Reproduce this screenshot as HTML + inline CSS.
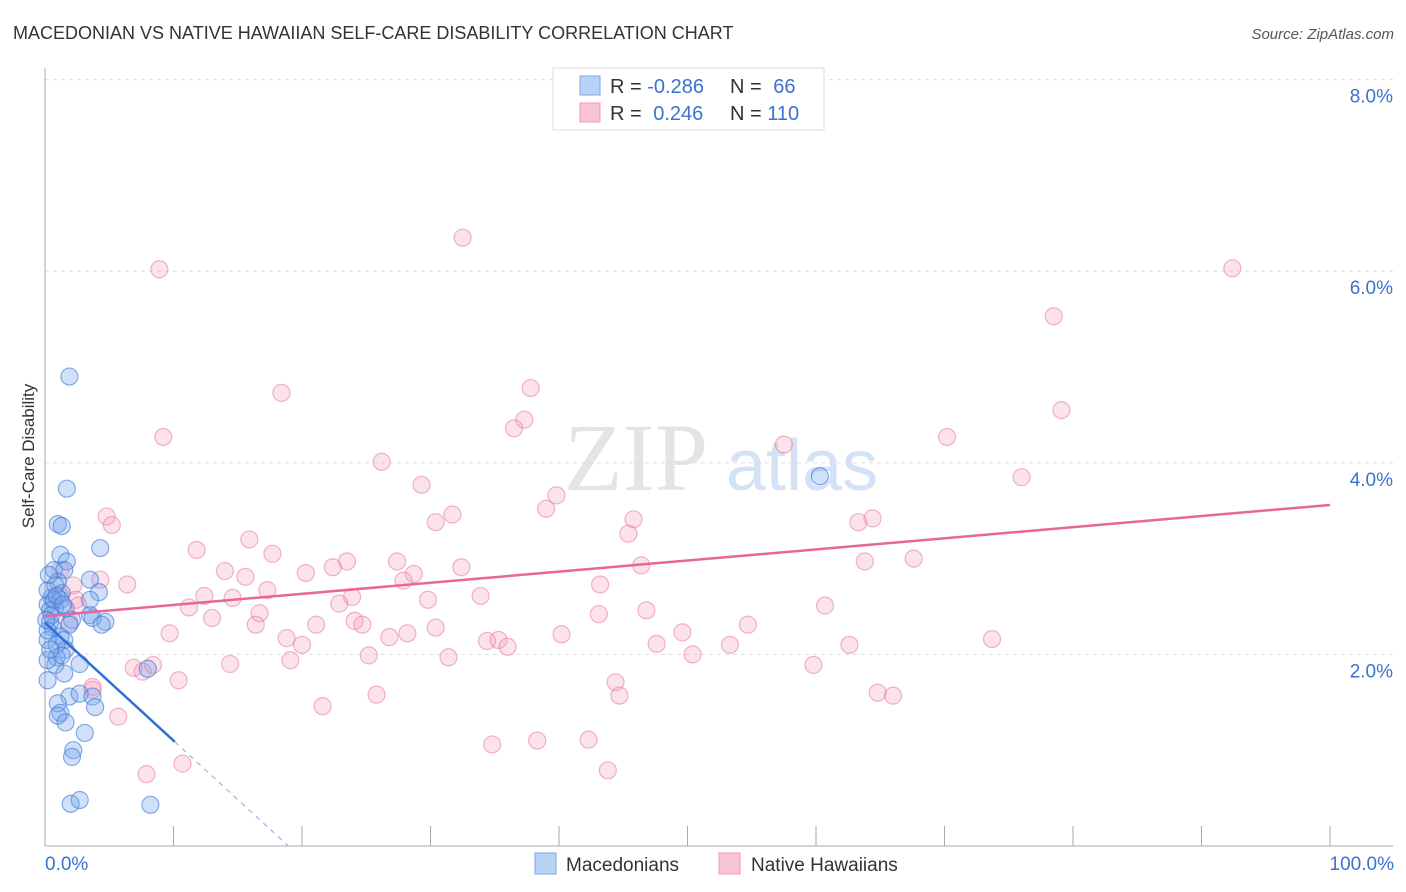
<!DOCTYPE html>
<html><head><meta charset="utf-8">
<style>
body{margin:0;background:#fff;font-family:"Liberation Sans",sans-serif;}
#wrap{position:relative;width:1406px;height:892px;overflow:hidden;}
</style></head>
<body>
<div id="wrap">
<svg id="chart" width="1406" height="892" xmlns="http://www.w3.org/2000/svg">
  <text x="13" y="39" font-size="18" fill="#333">MACEDONIAN VS NATIVE HAWAIIAN SELF-CARE DISABILITY CORRELATION CHART</text>
  <text x="1394" y="39" font-size="15" fill="#555" font-style="italic" text-anchor="end">Source: ZipAtlas.com</text>
  <text transform="translate(34,456) rotate(-90)" font-size="17" fill="#333" text-anchor="middle">Self-Care Disability</text>
  <g>
    <text x="636" y="490" font-size="96" font-family="Liberation Serif,serif" fill="#e4e4e4" text-anchor="middle">ZIP</text>
    <text x="802" y="490" font-size="72" fill="#d3e2f4" text-anchor="middle">atlas</text>
  </g>
  <g id="grid"></g>
  <g id="axes"></g>
  <g id="pts"></g>
  <g id="trends"></g>
  <g>
    <rect x="553" y="68" width="271" height="62" fill="#fff" stroke="#ddd"/>
    <rect x="580" y="76" width="20" height="19" fill="#b8d3f5" stroke="#7aa7e3"/>
    <rect x="580" y="103" width="20" height="19" fill="#f9c5d5" stroke="#ee9ab5"/>
    <text x="610" y="93" font-size="20" fill="#333">R = <tspan fill="#3b72d0">-0.286</tspan></text>
    <text x="730" y="93" font-size="20" fill="#333">N = <tspan fill="#3b72d0" dx="6">66</tspan></text>
    <text x="610" y="120" font-size="20" fill="#333">R = <tspan fill="#3b72d0" dx="6">0.246</tspan></text>
    <text x="730" y="120" font-size="20" fill="#333">N = <tspan fill="#3b72d0">110</tspan></text>
  </g>
  <g>
    <rect x="535" y="853" width="21" height="21" fill="#b8d3f5" stroke="#7aa7e3"/>
    <text x="566" y="871" font-size="19" fill="#333">Macedonians</text>
    <rect x="719" y="853" width="21" height="21" fill="#f9c5d5" stroke="#ee9ab5"/>
    <text x="751" y="871" font-size="19" fill="#333">Native Hawaiians</text>
  </g>
  <text x="45" y="870" font-size="19" fill="#3b72d0">0.0%</text>
  <text x="1394" y="870" font-size="19" fill="#3b72d0" text-anchor="end">100.0%</text>
</svg>
</div>
<script>
const yTicks=[2,4,6,8];
const yTickLabels=["2.0%","4.0%","6.0%","8.0%"];
const xTicks=[10,20,30,40,50,60,70,80,90,100];
const macX=[1.9,1.7,1.0,1.3,4.3,1.2,1.7,0.7,1.5,1.0,3.5,4.2,1.3,0.5,0.8,0.2,3.5,4.7,3.7,0.4,0.6,1.2,1.5,0.2,1.6,0.9,2.7,0.8,0.2,1.5,1.9,2.7,3.7,3.9,1.0,1.2,1.0,3.1,1.6,2.2,2.1,2.0,2.7,8.2,8.0,0.2,0.4,0.5,0.2,0.9,1.3,0.2,0.8,1.2,0.1,0.4,1.6,2.1,3.5,4.4,0.7,0.3,0.9,1.4,1.9,60.3];
const macY=[4.90,3.73,3.36,3.34,3.11,3.04,2.97,2.88,2.88,2.76,2.78,2.65,2.64,2.59,2.49,2.52,2.41,2.34,2.38,2.34,2.28,2.19,2.15,2.15,2.05,1.97,1.90,1.89,1.73,1.80,1.56,1.59,1.56,1.45,1.49,1.39,1.36,1.18,1.29,1.00,0.93,0.44,0.48,0.43,1.85,2.67,2.46,2.41,2.25,2.10,1.99,1.94,2.72,2.57,2.36,2.05,2.48,2.36,2.57,2.31,2.57,2.83,2.61,2.52,2.31,3.86];
const hawX=[8.9,32.5,92.4,78.5,18.4,37.8,37.3,36.5,9.2,79.1,70.2,57.5,26.2,76.0,29.3,39.8,39.0,31.7,30.4,45.8,45.4,63.3,64.4,4.8,5.2,15.9,11.8,17.7,63.8,67.6,27.4,23.5,32.4,46.4,22.4,20.3,14.0,28.7,15.6,27.9,6.4,43.2,2.2,17.3,12.4,14.6,23.9,33.9,2.4,1.1,11.2,22.9,29.8,60.7,46.8,16.7,43.1,13.0,16.4,24.1,21.1,24.7,1.9,9.7,18.8,30.4,28.2,26.8,40.2,49.6,54.7,20.0,34.4,35.3,36.0,47.6,53.3,62.6,73.7,25.2,50.4,31.4,19.1,14.4,6.9,7.6,8.4,59.8,10.4,44.4,3.7,3.7,25.8,44.7,64.8,66.0,21.6,5.7,34.8,38.3,42.3,10.7,7.9,43.8,4.3,1.2,2.6];
const hawY=[6.02,6.35,6.03,5.53,4.73,4.78,4.45,4.36,4.27,4.55,4.27,4.19,4.01,3.85,3.77,3.66,3.52,3.46,3.38,3.41,3.26,3.38,3.42,3.44,3.35,3.20,3.09,3.05,2.97,3.00,2.97,2.97,2.91,2.93,2.91,2.85,2.87,2.84,2.81,2.77,2.73,2.73,2.72,2.67,2.61,2.59,2.60,2.61,2.57,2.62,2.49,2.53,2.57,2.51,2.46,2.43,2.42,2.38,2.31,2.35,2.31,2.31,2.33,2.22,2.17,2.28,2.22,2.18,2.21,2.23,2.31,2.10,2.14,2.15,2.08,2.11,2.10,2.10,2.16,1.99,2.00,1.97,1.94,1.90,1.86,1.82,1.89,1.89,1.73,1.71,1.66,1.63,1.58,1.57,1.60,1.57,1.46,1.35,1.06,1.10,1.11,0.86,0.75,0.79,2.78,2.88,2.51];
const hawTrend=[2.40,3.56];
const macTrend=[2.33,-0.123];
const macSolidEnd=10.1;

const X0=45,X1=1330,Y0=846,PXPER=95.8;
const sx=v=>X0+(X1-X0)*v/100;
const sy=v=>Y0-v*PXPER;
const NS="http://www.w3.org/2000/svg";
function mk(tag,attrs,parent){const e=document.createElementNS(NS,tag);for(const k in attrs)e.setAttribute(k,attrs[k]);parent.appendChild(e);return e;}
const grid=document.getElementById('grid'),axes=document.getElementById('axes'),pts=document.getElementById('pts'),tr=document.getElementById('trends');
yTicks.forEach((t,i)=>{
  const l=mk('line',{x1:X0,x2:1393,y1:sy(t),y2:sy(t),stroke:'#ddd','stroke-dasharray':'4,4'},grid);
  
  
  const tx=mk('text',{x:1393,y:sy(t)+23,'font-size':19,fill:'#3b72d0','text-anchor':'end'},axes);
  tx.textContent=yTickLabels[i];
  
  
});
const ya=mk('line',{x1:X0,x2:X0,y1:68,y2:Y0,stroke:'#aaa'},axes);


const xa=mk('line',{x1:X0,x2:1393,y1:Y0,y2:Y0,stroke:'#aaa'},axes);


xTicks.forEach(t=>{
  const l=mk('line',{x1:sx(t),x2:sx(t),y1:Y0,y2:Y0-20,stroke:'#aaa'},axes);
  
  
});
hawX.forEach((x,i)=>{
  const c=mk('circle',{cx:sx(x),cy:sy(hawY[i]),r:8.5,fill:'rgba(244,160,188,0.3)',stroke:'rgba(230,120,158,0.55)','stroke-width':1.2},pts);
  
  
});
macX.forEach((x,i)=>{
  const c=mk('circle',{cx:sx(x),cy:sy(macY[i]),r:8.5,fill:'rgba(120,165,235,0.35)',stroke:'rgba(60,120,215,0.6)','stroke-width':1.2},pts);
  
  
});
const ht=mk('line',{x1:sx(0),y1:sy(hawTrend[0]),x2:sx(100),y2:sy(hawTrend[1]),stroke:'#e8679a','stroke-width':2.5},tr);


const zeroX=-macTrend[0]/macTrend[1];
const ms=mk('line',{x1:sx(0),y1:sy(macTrend[0]),x2:sx(macSolidEnd),y2:sy(macTrend[0]+macTrend[1]*macSolidEnd),stroke:'#2f6fd6','stroke-width':2.5},tr);


const md=mk('line',{x1:sx(macSolidEnd),y1:sy(macTrend[0]+macTrend[1]*macSolidEnd),x2:sx(zeroX),y2:sy(0),stroke:'#9ab8e0','stroke-width':1.2,'stroke-dasharray':'5,5'},tr);


</script>
</body></html>
